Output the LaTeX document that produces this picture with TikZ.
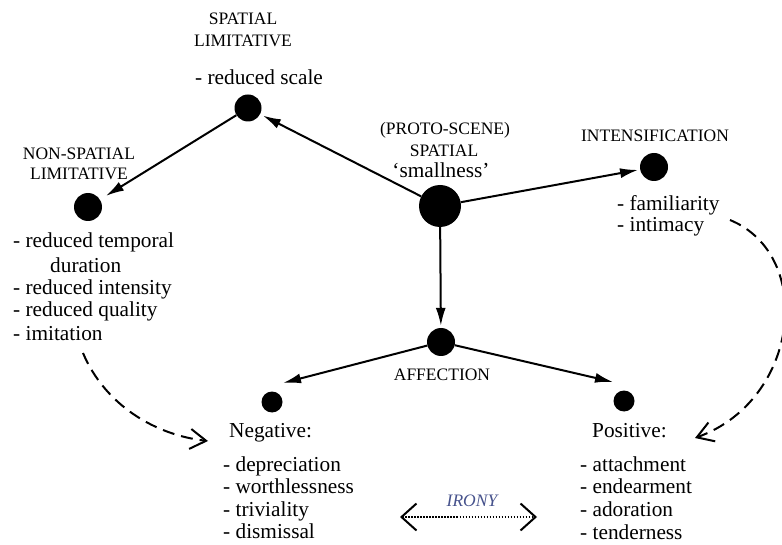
\documentclass[tikz,border=0pt]{standalone}
\usepackage{fontspec}
\setmainfont{Liberation Serif}
\usepackage{tikz}
\usetikzlibrary{arrows.meta, positioning}
\definecolor{ironyblue}{RGB}{70,82,140}

\tikzset{
    blob/.style={circle, fill=black, inner sep=0pt, minimum size=#1},
    caps/.style={font=\fontsize{17.5}{20}\selectfont, anchor=base, inner sep=0pt},
    item/.style={font=\fontsize{21.3}{24}\selectfont, anchor=base west, inner sep=0pt},
    link/.style={line width=2pt, -{Latex[length=18pt, width=10pt]}},
    trans/.style={line width=2pt, dash pattern=on 12pt off 7pt,
        -{Straight Barb[length=16pt, width=20pt, line width=2pt]}},
}

\begin{document}
\begin{tikzpicture}[x=1pt, y=-1pt]
\useasboundingbox (0,0) rectangle (782,545);

\node[blob=42pt] (proto) at (440,206) {};
\node[blob=27pt] (slim) at (248,108) {};
\node[blob=28pt] (nslim) at (88,207) {};
\node[blob=28pt] (intens) at (654,167) {};
\node[blob=28pt] (affect) at (441,342) {};
\node[blob=21pt] (neg) at (272,402) {};
\node[blob=21pt] (pos) at (624,401) {};

\node[caps] (protol1) at (445,135) {(PROTO-SCENE)};
\node[caps] (protol2) at (444,157) {SPATIAL};
\node[caps, font=\fontsize{21.3}{24}\selectfont] (protol3) at (441,178) {‘smallness’};

\node[caps] (sliml1) at (243,25) {SPATIAL};
\node[caps] (sliml2) at (243,47) {LIMITATIVE};
\node[item, anchor=base] (slimi1) at (259,85) {- reduced scale};

\node[caps] (nsliml1) at (79,160) {NON-SPATIAL};
\node[caps] (nsliml2) at (79,180) {LIMITATIVE};
\node[item] (nslimi1) at (13,248) {- reduced temporal};
\node[item] (nslimi2) at (50,273) {duration};
\node[item] (nslimi3) at (13,295) {- reduced intensity};
\node[item] (nslimi4) at (13,317) {- reduced quality};
\node[item] (nslimi5) at (13,341) {- imitation};

\node[caps] (intensl) at (655,142) {INTENSIFICATION};
\node[item] (intensi1) at (617,211) {- familiarity};
\node[item] (intensi2) at (617,232) {- intimacy};

\node[caps] (affectl) at (442,381) {AFFECTION};

\node[item] (negl) at (229,437) {Negative:};
\foreach \w [count=\i] in {depreciation, worthlessness, triviality, dismissal}
    \node[item] (negi\i) at (223,448.5+22.5*\i) {- \w};

\node[item] (posl) at (592,437) {Positive:};
\foreach \w [count=\i] in {attachment, endearment, adoration, tenderness}
    \node[item] (posi\i) at (580,448.5+22.7*\i) {- \w};

\node[caps, font=\itshape\fontsize{17.5}{20}\selectfont, text=ironyblue] (ironyl) at (472,506) {IRONY};

\coordinate (negend) at (283,383);
\coordinate (posend) at (613,382);
\coordinate (nsout) at (83,353);
\coordinate (negin) at (208,441);
\coordinate (intout) at (730,220);
\coordinate (posin) at (695,438);
\coordinate (ironyw) at (400,517);
\coordinate (ironye) at (537,517);

\draw[link, shorten >=3pt] (proto) -- (slim);
\draw[link, shorten >=7pt] (slim) -- (nslim);
\draw[link, shorten >=2pt] (proto) -- (intens);
\draw[link, shorten >=2pt] (proto) -- (affect);
\draw[link] (affect) -- (negend);
\draw[link] (affect) -- (posend);

\draw[trans] (nsout) .. controls (105,405) and (155,435) .. (negin);
\draw[trans] (intout) .. controls (815,255) and (800,400) .. (posin);
\draw[line width=1.5pt, dash pattern=on 1.5pt off 1.5pt,
    {Straight Barb[length=15pt, width=27pt, line width=2pt]}-{Straight Barb[length=15pt, width=27pt, line width=2pt]}]
    (ironyw) -- (ironye);
\end{tikzpicture}
\end{document}
